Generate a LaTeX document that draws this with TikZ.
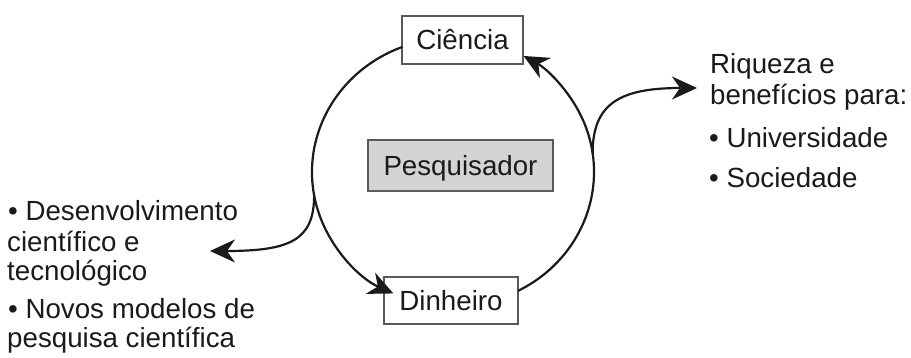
\documentclass[tikz,border=0pt]{standalone}
\usepackage{fontspec}
\setmainfont{Liberation Sans}
\usetikzlibrary{arrows.meta}
\definecolor{ink}{HTML}{1A1A1A}
\definecolor{boxline}{HTML}{5A5A5A}
\definecolor{boxfill}{HTML}{D4D4D4}
\begin{document}
\begin{tikzpicture}[x=1pt,y=1pt,
  txt/.style={font=\fontsize{27.7}{30}\selectfont, text=ink, inner sep=0pt, anchor=base west},
  boxnode/.style={draw=boxline, line width=1.4pt, fill=white, font=\fontsize{27.7}{30}\selectfont,
    text=ink, text height=20pt, text depth=0pt, inner sep=0pt},
  arr/.style={draw=ink, line width=2.2pt, -{Stealth[length=25pt,width=23pt,inset=8pt]}}]
\useasboundingbox (0,0) rectangle (911,-358);
% boxes
\node[boxnode, minimum width=121pt, minimum height=48pt] (cien) at (462.5,-40) {Ciência};
\node[boxnode, fill=boxfill, minimum width=185pt, minimum height=51pt] (pesq) at (460.5,-165.5) {Pesquisador};
\node[boxnode, minimum width=134pt, minimum height=47pt] (dinh) at (451,-300.5) {Dinheiro};
% side texts
\node[txt] (r1) at (710,-74) {Riqueza e};
\node[txt] (r2) at (710,-105) {benefícios para:};
\node[txt] (r3) at (709,-148) {• Universidade};
\node[txt] (r4) at (709,-188) {• Sociedade};
\node[txt] (l1) at (8,-221) {• Desenvolvimento};
\node[txt] (l2) at (7,-252) {científico e};
\node[txt] (l3) at (7,-281) {tecnológico};
\node[txt] (l4) at (8,-319) {• Novos modelos de};
\node[txt] (l5) at (7,-347) {pesquisa científica};
% cycle geometry
\coordinate (O) at (453,-172);
\path (O) ++(111:141 and 134) coordinate (a1);
\path (O) ++(-62.6:141 and 134) coordinate (a2);
\path (O) ++(8:141 and 134) coordinate (rb);
\path (O) ++(190:141 and 134) coordinate (lb);
\coordinate (rt) at (697,-88);
\coordinate (lt) at (210,-251);
% arcs
\draw[arr] (a1) arc[start angle=111, end angle=245, x radius=141, y radius=134];
\draw[arr] (a2) arc[start angle=-62.6, end angle=60, x radius=141, y radius=134];
% branches
\draw[arr] (rb) .. controls +(0,50) and +(-77,0) .. (rt);
\draw[arr] (lb) .. controls +(0,-45) and +(80,0) .. (lt);
\end{tikzpicture}
\end{document}
